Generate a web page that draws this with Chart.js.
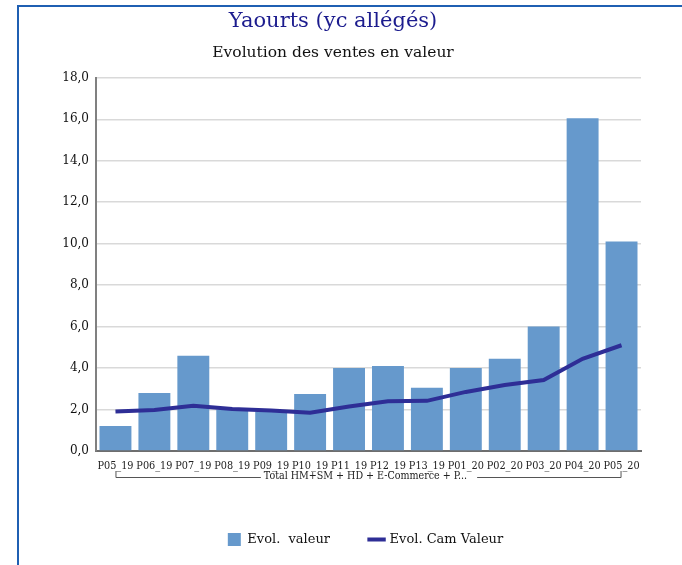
<!DOCTYPE html>
<html>
<head>
<meta charset="utf-8">
<script src="https://cdn.jsdelivr.net/npm/chart.js@4/dist/chart.umd.min.js"></script>
<style>
    html, body { margin: 0; padding: 0; background: #fff; overflow: hidden; }
    #frame {
        position: absolute; left: 17px; top: 5px; width: 700px; height: 600px;
        border-left: 2px solid #1f5fb2; border-top: 2px solid #1f5fb2;
    }
    #wrap { position: absolute; left: 0; top: 0; width: 682px; height: 565px; }
</style>
</head>
<body>
<div id="frame"></div>
<div id="wrap"><canvas id="chart"></canvas></div>
<script>
    // Chart data
    const periods = ['P05_19', 'P06_19', 'P07_19', 'P08_19', 'P09_19', 'P10_19', 'P11_19',
                     'P12_19', 'P13_19', 'P01_20', 'P02_20', 'P03_20', 'P04_20', 'P05_20'];
    const evolValeur = [1.2, 2.8, 4.6, 2.0, 1.9, 2.75, 4.0, 4.1, 3.05, 4.0, 4.45, 6.0, 16.05, 10.1];
    const evolCamValeur = [1.9, 1.98, 2.18, 2.03, 1.95, 1.85, 2.15, 2.4, 2.42, 2.85, 3.18, 3.42, 4.45, 5.1];
    const groupLabel = 'Total HM+SM + HD + E-Commerce + P...';
    const yMin = 0, yMax = 18, yStep = 2;

    const serif = '"DejaVu Serif", "Liberation Serif", serif';
    const serifCond = '"DejaVu Serif Condensed", "DejaVu Serif", serif';

    // Draws the category group bracket below the tick labels
    const groupBracket = {
        id: 'groupBracket',
        afterDraw(chart) {
            const x = chart.scales.x;
            const ctx = chart.ctx;
            const x0 = x.getPixelForValue(0);
            const x1 = x.getPixelForValue(periods.length - 1);
            const cx = (x.left + x.right) / 2 - 3;
            const yText = x.top + 25;
            const yLine = x.top + 26.5;
            const yTick = x.top + 20;

            ctx.save();
            ctx.font = '10.6px ' + serifCond;
            ctx.fillStyle = '#222';
            ctx.textAlign = 'center';
            ctx.textBaseline = 'middle';
            ctx.fillText(groupLabel, cx, yText);
            const tw = ctx.measureText(groupLabel).width;

            ctx.strokeStyle = '#555';
            ctx.lineWidth = 1;
            ctx.beginPath();
            ctx.moveTo(x0 + 0.5, yTick);
            ctx.lineTo(x0 + 0.5, yLine);
            ctx.lineTo(cx - tw / 2 - 3, yLine);
            ctx.moveTo(cx + tw / 2 + 10, yLine);
            ctx.lineTo(x1 - 0.5, yLine);
            ctx.lineTo(x1 - 0.5, yTick);
            ctx.stroke();
            ctx.restore();
        },
        // centre the legend over the plot area rather than the whole canvas
        afterLayout(chart) {
            const area = chart.chartArea;
            const lg = chart.legend;
            const shift = (area.left + area.right) / 2 - (lg.left + lg.right) / 2 - 3;
            lg.left += shift;
            lg.right += shift;
        }
    };

    const ctx = document.getElementById('chart').getContext('2d');

    new Chart(ctx, {
        type: 'bar',
        data: {
            labels: periods,
            datasets: [
                {
                    type: 'line',
                    label: 'Evol. Cam Valeur',
                    data: evolCamValeur,
                    borderColor: '#2e2e96',
                    backgroundColor: '#2e2e96',
                    borderWidth: 4,
                    pointRadius: 0,
                    pointStyle: 'line',
                    tension: 0,
                    order: 0
                },
                {
                    label: 'Evol.  valeur',
                    data: evolValeur,
                    backgroundColor: '#6699cc',
                    borderWidth: 0,
                    pointStyle: 'rect',
                    barPercentage: 0.82,
                    categoryPercentage: 1,
                    order: 1
                }
            ]
        },
        options: {
            responsive: true,
            maintainAspectRatio: false,
            animation: false,
            layout: {
                padding: { left: 25, right: 41, top: 8, bottom: 9 }
            },
            scales: {
                x: {
                    grid: { display: false, drawTicks: false },
                    border: { display: true, color: '#6e6e6e', width: 2 },
                    ticks: {
                        color: '#222',
                        padding: 9,
                        maxRotation: 0,
                        autoSkip: false,
                        font: { family: serifCond, size: 10.8 }
                    },
                    afterFit(scale) { scale.height = 42; }
                },
                y: {
                    min: yMin,
                    max: yMax,
                    grid: {
                        color: '#d9d9d9',
                        lineWidth: 1.5,
                        drawTicks: false
                    },
                    border: { display: true, color: '#808080', width: 2 },
                    ticks: {
                        stepSize: yStep,
                        color: '#111',
                        padding: 7,
                        font: { family: serif, size: 12 },
                        callback: v => v.toFixed(1).replace('.', ',')
                    },
                    afterFit(scale) { scale.width = 71; }
                }
            },
            plugins: {
                title: {
                    display: true,
                    text: 'Yaourts (yc allégés)',
                    color: '#1c1c8e',
                    font: { family: serif, size: 21, weight: 'normal' },
                    padding: { top: 1, bottom: 4 }
                },
                subtitle: {
                    display: true,
                    text: 'Evolution des ventes en valeur',
                    color: '#111',
                    font: { family: serif, size: 15.5 },
                    padding: { top: 5, bottom: 16 }
                },
                legend: {
                    display: true,
                    position: 'bottom',
                    reverse: true,
                    labels: {
                        usePointStyle: true,
                        color: '#111',
                        padding: 40,
                        font: { family: serif, size: 13 }
                    }
                },
                tooltip: { enabled: false }
            }
        },
        plugins: [groupBracket]
    });
</script>
</body>
</html>
